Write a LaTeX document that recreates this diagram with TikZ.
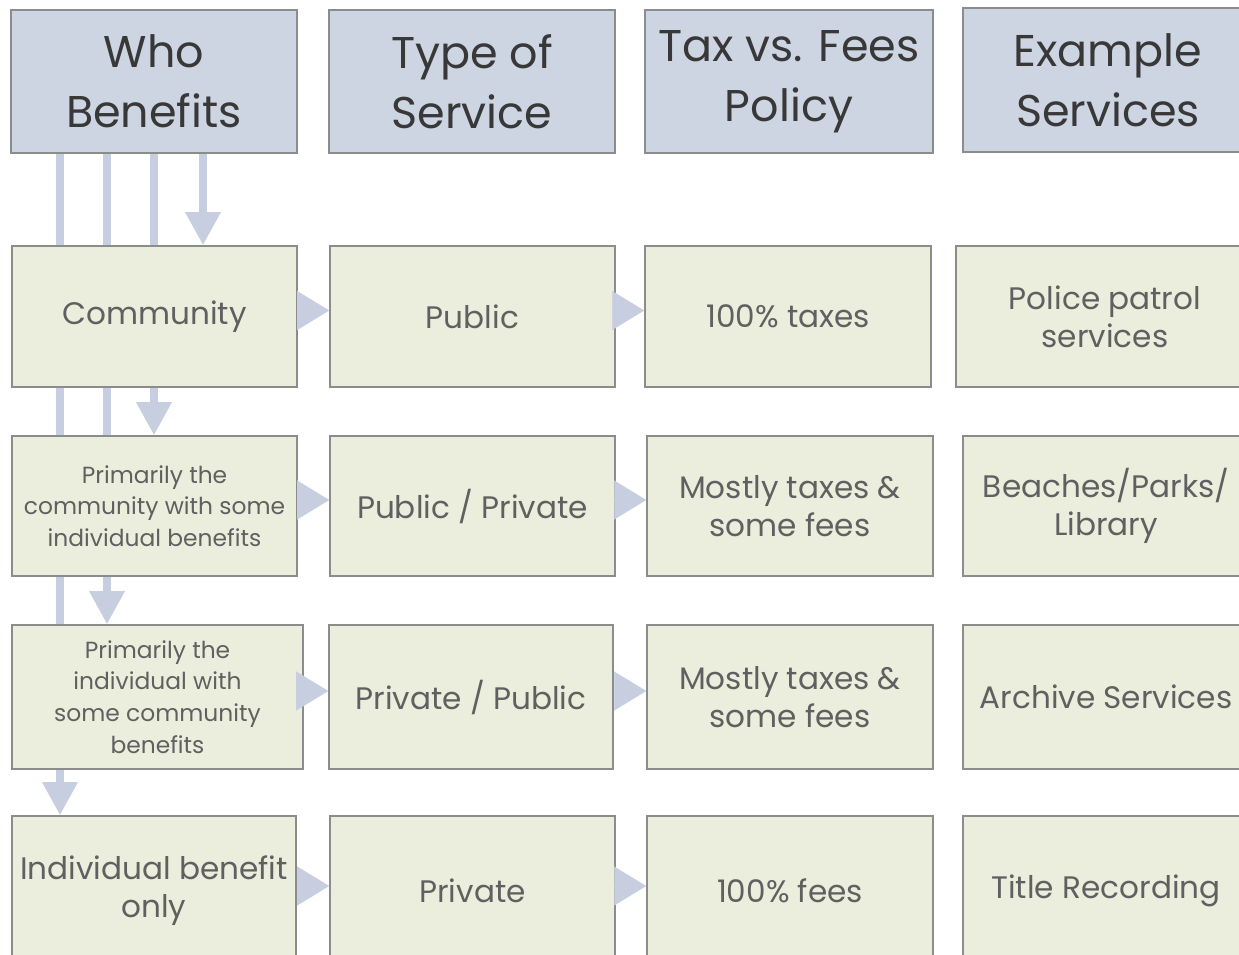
\documentclass[tikz,border=0pt]{standalone}
\usepackage{fontspec}
\setmainfont{Poppins}
\usetikzlibrary{arrows.meta,backgrounds}
\definecolor{headfill}{HTML}{CDD4E2}
\definecolor{boxfill}{HTML}{EBEEDD}
\definecolor{edgegray}{HTML}{8C8C8C}
\definecolor{flowblue}{HTML}{C6CEE0}
\definecolor{headtext}{HTML}{383838}
\definecolor{boxtext}{HTML}{606060}

\begin{document}
\begin{tikzpicture}[x=0.02cm,y=-0.02cm,
    head node/.style={rectangle,draw=edgegray,fill=headfill,line width=1pt,text=headtext,align=center,font=\fontsize{25.3}{34}\selectfont,inner sep=0pt},
    box node/.style={rectangle,draw=edgegray,fill=boxfill,line width=1pt,text=boxtext,align=center,font=\fontsize{17.7}{21.5}\selectfont,inner sep=0pt},
    small text/.style={font=\fontsize{13.3}{18}\selectfont},
    down flow/.style={draw=flowblue,line width=4pt,-{Triangle[width=0.68cm,length=0.66cm]}},
    side flow/.style={draw=flowblue,fill=flowblue,line width=0.1pt,-{Triangle[width=0.78cm,length=0.64cm]}}]
  \useasboundingbox (0,0) rectangle (1239,955);
  \clip (0,0) rectangle (1239,955);

  % headers
  \node[head node,minimum width=5.72cm,minimum height=2.86cm] (h1) at (154,81.5) {Who\\Benefits};
  \node[head node,minimum width=5.72cm,minimum height=2.86cm] (h2) at (472,81.5) {Type of\\Service};
  \node[head node,minimum width=5.76cm,minimum height=2.86cm] (h3) at (789,81.5) {Tax vs. Fees\\Policy};
  \node[head node,minimum width=5.8cm,minimum height=2.88cm] (h4) at (1108,80) {Example\\Services};

  % row 1
  \node[box node,minimum width=5.7cm,minimum height=2.82cm] (r1c1) at (154.5,316.5) {Community};
  \node[box node,minimum width=5.7cm,minimum height=2.82cm] (r1c2) at (472.5,316.5) {Public};
  \node[box node,minimum width=5.72cm,minimum height=2.82cm] (r1c3) at (788,316.5) {100\% taxes};
  \node[box node,minimum width=5.96cm,minimum height=2.82cm] (r1c4) at (1105,316.5) {Police patrol\\services};

  % row 2
  \node[box node,small text,minimum width=5.7cm,minimum height=2.8cm] (r2c1) at (154.5,506) {Primarily the\\community with some\\individual benefits};
  \node[box node,minimum width=5.7cm,minimum height=2.8cm] (r2c2) at (472.5,506) {Public / Private};
  \node[box node,minimum width=5.72cm,minimum height=2.8cm] (r2c3) at (790,506) {Mostly taxes \&\\some fees};
  \node[box node,minimum width=5.72cm,minimum height=2.8cm] (r2c4) at (1106,506) {Beaches/Parks/\\Library};

  % row 3
  \node[box node,small text,minimum width=5.82cm,minimum height=2.88cm] (r3c1) at (157.5,697) {Primarily the\\individual with\\some community\\benefits};
  \node[box node,minimum width=5.68cm,minimum height=2.88cm] (r3c2) at (471,697) {Private / Public};
  \node[box node,minimum width=5.72cm,minimum height=2.88cm] (r3c3) at (790,697) {Mostly taxes \&\\some fees};
  \node[box node,minimum width=5.72cm,minimum height=2.88cm] (r3c4) at (1106,697) {Archive Services};

  % row 4
  \node[box node,minimum width=5.68cm,minimum height=3cm] (r4c1) at (154,891) {Individual benefit\\only};
  \node[box node,minimum width=5.7cm,minimum height=3cm] (r4c2) at (472.5,891) {Private};
  \node[box node,minimum width=5.72cm,minimum height=3cm] (r4c3) at (790,891) {100\% fees};
  \node[box node,minimum width=5.72cm,minimum height=3cm] (r4c4) at (1106,891) {Title Recording};

  \coordinate (xa) at (60,0);
  \coordinate (xb) at (107,0);
  \coordinate (xc) at (154,0);
  \coordinate (xd) at (203,0);

  \begin{scope}[on background layer]
    \draw[down flow] (h1.south -| xa) -- (r4c1.north -| xa);
    \draw[down flow] (h1.south -| xb) -- (r3c1.north -| xb);
    \draw[down flow] (h1.south -| xc) -- (r2c1.north -| xc);
    \draw[down flow] (h1.south -| xd) -- (r1c1.north -| xd);
  \end{scope}

  \draw[side flow] ([yshift=0.12cm]r1c1.east) -- ([yshift=0.12cm]r1c2.west);
  \draw[side flow] ([yshift=0.12cm]r1c2.east) -- ([yshift=0.12cm]r1c3.west);
  \draw[side flow] ([yshift=0.12cm]r2c1.east) -- ([yshift=0.12cm]r2c2.west);
  \draw[side flow] ([yshift=0.12cm]r2c2.east) -- ([yshift=0.12cm]r2c3.west);
  \draw[side flow] ([yshift=0.12cm]r3c1.east) -- ([yshift=0.12cm]r3c2.west);
  \draw[side flow] ([yshift=0.12cm]r3c2.east) -- ([yshift=0.12cm]r3c3.west);
  \draw[side flow] ([yshift=0.1cm]r4c1.east) -- ([yshift=0.1cm]r4c2.west);
  \draw[side flow] ([yshift=0.1cm]r4c2.east) -- ([yshift=0.1cm]r4c3.west);
\end{tikzpicture}
\end{document}
